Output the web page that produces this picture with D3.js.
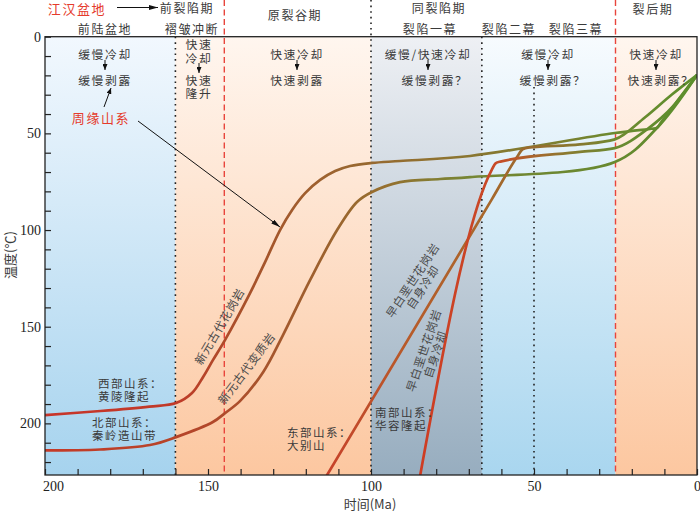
<!DOCTYPE html>
<html>
<head>
<meta charset="utf-8">
<script src="https://cdn.jsdelivr.net/npm/d3@7"></script>
<style>
  body { margin: 0; background: #fff; }
  text { font-family: "Noto Sans CJK SC", "Noto Sans", sans-serif; fill: #3a3a3a; }
  .num { font-family: "Liberation Serif", "DejaVu Serif", serif; font-size: 14px; fill: #222; }
</style>
</head>
<body>
<svg id="chart" width="700" height="511"></svg>
<script>
// stage boundaries (Ma) and the guide lines
const stageBounds = [200, 160, 100, 66, 25, 0];
const dottedLines = [160, 100, 66, 50];
const dashedLines = [145, 25];

const xTicks = d3.range(0, 201, 10);
const xTickLabels = [200, 150, 100, 50, 0];
const yTicks = d3.range(0, 221, 10);
const yTickLabels = [0, 50, 100, 150, 200];

// t-T paths [time Ma, temperature C]
const westGranite = [[200, 195.7], [183, 193.6], [168, 191.3], [159.8, 189.5], [154.9, 184.3], [151.5, 176.0],
  [148.5, 167.3], [144.8, 156.9], [137.1, 132.6], [132.5, 116.6], [127.9, 100.0], [124.2, 89.6], [120.2, 80.9],
  [115.6, 74.1], [111.0, 69.5], [106.4, 66.9], [99.7, 65.3], [91.1, 64.3], [69.6, 61.7], [25.2, 49.8],
  [14, 47.6], [12.3, 47.2], [11, 44.3], [0, 19.8]];
const northMeta = [[200, 214.0], [183.1, 213.5], [167.8, 211.2], [159.8, 207.1], [148.5, 199.3], [144.8, 194.7],
  [140.2, 188.5], [133.1, 173.5], [127.0, 154.3], [118.7, 125.9], [110.4, 100.0], [104.3, 85.5], [99.7, 80.3],
  [91.1, 75.2], [78.8, 73.6], [69.6, 72.6], [25.2, 64.8], [12.3, 47.2], [0, 19.8]];
const eastGranite = [[114.4, 229.3], [62.9, 84], [55, 61.7], [53.5, 58.2], [51.5, 57.3], [35.9, 55.7],
  [25.2, 53.1], [16, 41.8], [7.7, 29.9], [0, 19.8]];
const southGranite = [[85.3, 230.5], [63, 69], [61.8, 65.5], [60.3, 64.6], [35.9, 59.6], [25.2, 57.6],
  [15.3, 47.9], [7.4, 36.1], [0, 19.8]];

const periodNames = ['前裂陷期', '原裂谷期', '同裂陷期', '裂后期'];
const subStageNames = ['前陆盆地', '褶皱冲断', '裂陷一幕', '裂陷二幕', '裂陷三幕'];

const svg = d3.select('#chart');
const x = d3.scaleLinear().domain([200, 0]).range([45, 697]);
const y = d3.scaleLinear().domain([0, 226.7]).range([36.7, 475]);
const [yTop, yBottom] = y.range();

const defs = svg.append('defs');

function vGrad(id, c0, c1) {
    const g = defs.append('linearGradient').attr('id', id)
        .attr('x1', 0).attr('y1', 0).attr('x2', 0).attr('y2', 1);
    g.append('stop').attr('offset', 0).attr('stop-color', c0);
    g.append('stop').attr('offset', 1).attr('stop-color', c1);
}
vGrad('bgBlue', '#f2f8fe', '#a6d3ee');
vGrad('bgOrange', '#fff6ef', '#fcc7a0');
vGrad('bgGray', '#eef0f4', '#97adbf');
vGrad('bgSky', '#f7fbfe', '#a9d6ef');
const stageFills = ['bgBlue', 'bgOrange', 'bgGray', 'bgSky', 'bgOrange'];

function hGrad(id, stops) {
    const g = defs.append('linearGradient').attr('id', id)
        .attr('gradientUnits', 'userSpaceOnUse')
        .attr('x1', x(200)).attr('y1', 0).attr('x2', x(0)).attr('y2', 0);
    stops.forEach(([t, c]) => g.append('stop').attr('offset', (200 - t) / 200).attr('stop-color', c));
}
hGrad('gWest', [[200, '#c8352a'], [160, '#c03a28'], [140, '#a9502a'], [110, '#9b6530'], [80, '#8f7230'],
  [40, '#7a8030'], [25, '#6a8a2f'], [0, '#5b8f2c']]);
hGrad('gNorth', [[200, '#c53a28'], [150, '#b2472a'], [120, '#9f5e2e'], [95, '#95702f'], [70, '#768634'],
  [25, '#67892f'], [0, '#5b8f2c']]);
hGrad('gEast', [[115, '#c8402a'], [90, '#b85a2a'], [65, '#a8682c'], [52, '#9a6a2e'], [35, '#857a30'],
  [25, '#6f8a30'], [0, '#5b8f2c']]);
hGrad('gSouth', [[86, '#cf3b22'], [62, '#c84a28'], [55, '#b85a2a'], [40, '#8a7a30'], [25, '#6a8a30'],
  [0, '#5b8f2c']]);

function marker(id, w, h) {
    defs.append('marker').attr('id', id)
        .attr('markerUnits', 'userSpaceOnUse')
        .attr('viewBox', `0 0 ${w} ${h}`)
        .attr('markerWidth', w).attr('markerHeight', h)
        .attr('refX', w).attr('refY', h / 2)
        .attr('orient', 'auto')
        .append('path').attr('d', `M0,0L${w},${h / 2}L0,${h}Z`).attr('fill', '#111');
}
marker('arrowS', 6, 5);
marker('arrowL', 9, 5);

defs.append('clipPath').attr('id', 'plotClip')
    .append('rect').attr('x', x(200)).attr('y', yTop).attr('width', x(0) - x(200)).attr('height', yBottom - yTop);

// background stages
svg.append('g').selectAll('rect')
    .data(d3.pairs(stageBounds))
    .join('rect')
    .attr('x', (d) => x(d[0]))
    .attr('y', yTop)
    .attr('width', (d) => x(d[1]) - x(d[0]))
    .attr('height', yBottom - yTop)
    .attr('fill', (d, i) => `url(#${stageFills[i]})`);

// guide lines
const dottedTop = { 160: yTop, 100: 0, 66: yTop, 50: 87 };
svg.append('g').selectAll('line')
    .data(dottedLines)
    .join('line')
    .attr('x1', (d) => x(d)).attr('x2', (d) => x(d))
    .attr('y1', (d) => dottedTop[d]).attr('y2', yBottom)
    .attr('stroke', '#222').attr('stroke-width', 1.6)
    .attr('stroke-dasharray', '1.6,4');
svg.append('g').selectAll('line')
    .data(dashedLines)
    .join('line')
    .attr('x1', (d) => x(d)).attr('x2', (d) => x(d))
    .attr('y1', 0).attr('y2', yBottom)
    .attr('stroke', '#e8453c').attr('stroke-width', 1.4)
    .attr('stroke-dasharray', '6,3.5');

// t-T curves
const smooth = d3.line().x((d) => x(d[0])).y((d) => y(d[1])).curve(d3.curveCatmullRom.alpha(0.5));
const sharp = d3.line().x((d) => x(d[0])).y((d) => y(d[1])).curve(d3.curveMonotoneX);
const curves = [
    { data: westGranite, grad: 'gWest', gen: smooth },
    { data: northMeta, grad: 'gNorth', gen: smooth },
    { data: eastGranite, grad: 'gEast', gen: sharp },
    { data: southGranite, grad: 'gSouth', gen: sharp },
];
svg.append('g').attr('clip-path', 'url(#plotClip)')
    .selectAll('path')
    .data(curves)
    .join('path')
    .attr('d', (d) => d.gen(d.data))
    .attr('fill', 'none')
    .attr('stroke', (d) => `url(#${d.grad})`)
    .attr('stroke-width', 2.7)
    .attr('stroke-linejoin', 'round');

// axes
const xAxis = svg.append('g')
    .attr('transform', `translate(0,${yBottom})`)
    .call(d3.axisBottom(x).tickValues(xTicks).tickSize(-6).tickPadding(6)
        .tickFormat((d) => (xTickLabels.includes(d) ? d : '')));
const yAxis = svg.append('g')
    .attr('transform', `translate(${x(200)},0)`)
    .call(d3.axisLeft(y).tickValues(yTicks).tickSize(-6).tickPadding(4)
        .tickFormat((d) => (yTickLabels.includes(d) ? d : '')));
[xAxis, yAxis].forEach((a) => {
    a.select('.domain').remove();
    a.selectAll('.tick line').attr('stroke', '#222').attr('stroke-width', 1.2);
    a.selectAll('.tick text').attr('class', 'num');
});
xAxis.selectAll('.tick text').filter((d) => d === 200).attr('dx', 8);

svg.append('rect')
    .attr('x', x(200)).attr('y', yTop)
    .attr('width', x(0) - x(200)).attr('height', yBottom - yTop)
    .attr('fill', 'none').attr('stroke', '#222').attr('stroke-width', 1.3);

svg.append('text')
    .attr('transform', 'translate(9,255) rotate(-90)')
    .attr('text-anchor', 'middle').attr('dominant-baseline', 'central')
    .attr('font-size', 13)
    .text('温度(℃)');
svg.append('text')
    .attr('x', 370).attr('y', 503)
    .attr('text-anchor', 'middle').attr('dominant-baseline', 'central')
    .attr('font-size', 13)
    .text('时间(Ma)');

// header
function label(g, tx, ty, str, opts = {}) {
    return g.append('text')
        .attr('x', tx).attr('y', ty)
        .attr('text-anchor', opts.anchor || 'middle')
        .attr('dominant-baseline', 'central')
        .attr('font-size', opts.size || 12)
        .attr('letter-spacing', opts.ls ?? 1.6)
        .style('fill', opts.color || '#3a3a3a')
        .text(str);
}
const head = svg.append('g');
label(head, 77, 8, '江汉盆地', { color: '#e53b2c', size: 13 });
head.append('line').attr('x1', 117).attr('x2', 158).attr('y1', 7.5).attr('y2', 7.5)
    .attr('stroke', '#111').attr('stroke-width', 1.2).attr('marker-end', 'url(#arrowL)');
const periodPos = [[187, 7], [295, 14], [439, 7], [653, 8]];
periodNames.forEach((s, i) => label(head, periodPos[i][0], periodPos[i][1], s));
const subPos = [105, 192, 430, 509, 576];
subStageNames.forEach((s, i) => label(head, subPos[i], 28, s));

// process annotations
const notes = svg.append('g');
function note(cx, lines, arrowAt) {
    lines.forEach(([s, dx, ly]) => label(notes, cx + dx, ly, s, { size: 11.8 }));
    notes.append('line').attr('x1', cx).attr('x2', cx).attr('y1', arrowAt).attr('y2', arrowAt + 10)
        .attr('stroke', '#111').attr('stroke-width', 1).attr('marker-end', 'url(#arrowS)');
}
note(105, [['缓慢冷却', 0, 53], ['缓慢剥露', 0, 79]], 60);
note(199, [['快速', 0, 43], ['冷却', 0, 57], ['快速', 0, 79], ['隆升', 0, 92]], 63);
note(297, [['快速冷却', 0, 53], ['快速剥露', 0, 79]], 60);
note(428, [['缓慢/快速冷却', 0, 53], ['缓慢剥露？', 7, 79]], 60);
note(548, [['缓慢冷却', 0, 53], ['缓慢剥露？', 5, 79]], 60);
note(656, [['快速冷却', 0, 53], ['快速剥露？', 5, 79]], 60);

label(notes, 101, 117, '周缘山系', { color: '#e53b2c', size: 13 });
notes.append('line').attr('x1', 104).attr('y1', 107).attr('x2', 111).attr('y2', 88)
    .attr('stroke', '#111').attr('stroke-width', 1).attr('marker-end', 'url(#arrowS)');
notes.append('line').attr('x1', 138).attr('y1', 121).attr('x2', 280).attr('y2', 227)
    .attr('stroke', '#111').attr('stroke-width', 1).attr('marker-end', 'url(#arrowL)');

// mountain belt labels
const belts = [
    [98, 383, '西部山系：', '黄陵隆起'],
    [92, 422, '北部山系：', '秦岭造山带'],
    [287, 432, '东部山系：', '大别山'],
    [375, 412, '南部山系：', '华容隆起'],
];
belts.forEach(([bx, by, a, b]) => {
    label(notes, bx, by, a, { anchor: 'start', ls: 1.5, size: 11.5 });
    label(notes, bx, by + 12.8, b, { anchor: 'start', ls: 1.5, size: 11.5 });
});

// rock labels along curves
const rocks = [
    [219, 326, -59.7, ['新元古代花岗岩']],
    [246, 368, -52.9, ['新元古代变质岩']],
    [412, 280, -56.5, ['早白垩世花岗岩', '自身冷却']],
    [423, 350, -71.3, ['早白垩世花岗岩', '自身冷却']],
];
rocks.forEach(([rx, ry, ang, lines]) => {
    const g = notes.append('g').attr('transform', `translate(${rx},${ry}) rotate(${ang})`);
    lines.forEach((s, i) => label(g, 0, i * 12.3, s, { ls: 0.8, size: 11.5, color: '#4a4a4a' }));
});
</script>
</body>
</html>
